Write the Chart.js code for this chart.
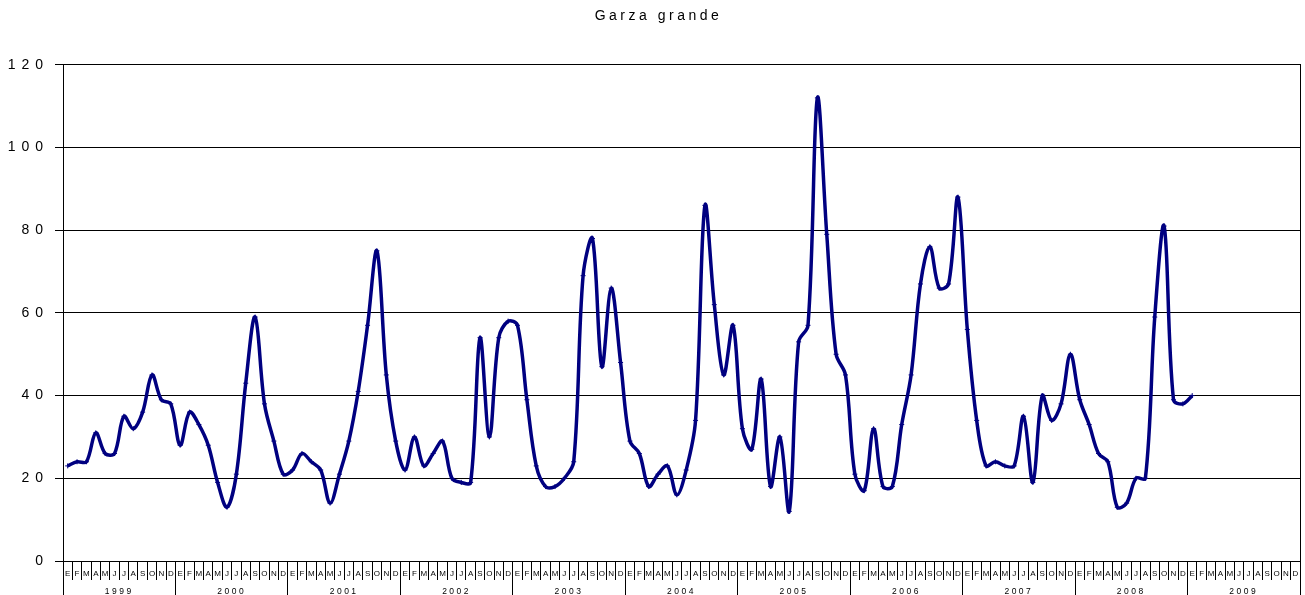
<!DOCTYPE html>
<html><head><meta charset="utf-8">
<script src="https://cdn.jsdelivr.net/npm/chart.js@4"></script>
<style>html,body{margin:0;padding:0;background:#fff;} canvas{display:block;}</style>
</head><body>
<canvas id="c" width="1305" height="595"></canvas>
<script>
const chartTitle = 'Garza grande';
const years = ['1999','2000','2001','2002','2003','2004','2005','2006','2007','2008','2009'];
const monthLetters = ['E','F','M','A','M','J','J','A','S','O','N','D'];
const yTicks = [0, 20, 40, 60, 80, 100, 120];

const v1999 = [23, 24, 24, 31, 26, 26, 35, 32, 36, 45, 39, 38];
const v2000 = [28, 36, 33, 28, 19, 13, 21, 43, 59, 38, 29, 21];
const v2001 = [22, 26, 24, 22, 14, 21, 29, 41, 57, 75, 45, 29];
const v2002 = [22, 30, 23, 26, 29, 20, 19, 19, 54, 30, 54, 58];
const v2003 = [57, 39, 23, 18, 18, 20, 24, 69, 78, 47, 66, 48];
const v2004 = [29, 26, 18, 21, 23, 16, 22, 34, 86, 62, 45, 57];
const v2005 = [32, 27, 44, 18, 30, 12, 53, 57, 112, 79, 50, 45];
const v2006 = [21, 17, 32, 18, 18, 33, 45, 67, 76, 66, 67, 88];
const v2007 = [56, 34, 23, 24, 23, 23, 35, 19, 40, 34, 38, 50];
const v2008 = [39, 33, 26, 24, 13, 14, 20, 20, 59, 81, 39, 38];
const v2009 = [40];

const series = [].concat(v1999, v2000, v2001, v2002, v2003, v2004, v2005, v2006, v2007, v2008, v2009);
const monthLabels = [];
years.forEach(() => monthLetters.forEach(m => monthLabels.push(m)));
while (series.length < monthLabels.length) series.push(null);

const FONT = "'Liberation Sans', Arial, sans-serif";

const spacingPlugin = {
  id: 'spacing',
  beforeDraw(chart) {
    const ctx = chart.ctx;
    const wrap = (obj, method, sp) => {
      if (!obj || obj['__w_' + method]) return;
      const orig = obj[method];
      obj[method] = function (...args) {
        const prev = ctx.letterSpacing;
        ctx.letterSpacing = sp;
        try { return orig.apply(this, args); } finally { ctx.letterSpacing = prev; }
      };
      obj['__w_' + method] = true;
    };
    if (chart.scales.y) chart.scales.y._computeLabelArea = () => undefined;
    wrap(chart.scales.y, 'drawLabels', '6px');
    wrap(chart.scales.x2, 'drawLabels', '2.5px');
    wrap(chart.titleBlock, 'draw', '3.5px');
  }
};

new Chart(document.getElementById('c'), {
  type: 'line',
  data: {
    labels: monthLabels,
    datasets: [{
      data: series,
      borderColor: '#000080',
      borderWidth: 3.5,
      tension: 0.35,
      pointStyle: 'cross',
      pointRadius: 2.5,
      pointBorderWidth: 1,
      pointBorderColor: '#000080',
      pointBackgroundColor: '#000080',
      fill: false,
      xAxisID: 'x',
      yAxisID: 'y'
    }]
  },
  options: {
    responsive: false,
    animation: false,
    devicePixelRatio: 1,
    layout: { padding: { left: 13, right: 1, top: 0, bottom: 0 } },
    plugins: {
      legend: { display: false },
      tooltip: { enabled: false },
      title: {
        display: true,
        text: chartTitle,
        color: '#000',
        font: { family: FONT, size: 14, weight: 'normal' },
        padding: { top: 8, bottom: 40 }
      }
    },
    scales: {
      x: {
        type: 'category',
        position: 'bottom',
        offset: true,
        afterFit: (s) => { s.height = 19; },
        grid: { offset: true, drawOnChartArea: false, drawTicks: true, tickLength: 19, color: '#000', lineWidth: 1 },
        border: { display: true, color: '#000', width: 1 },
        ticks: { autoSkip: false, maxRotation: 0, minRotation: 0, color: '#000', padding: -10.8,
                 font: { family: FONT, size: 8 } }
      },
      x2: {
        type: 'category',
        position: 'bottom',
        labels: years,
        offset: true,
        afterFit: (s) => { s.height = 15; },
        grid: { offset: true, drawOnChartArea: false, drawTicks: true, tickLength: 15, color: '#000', lineWidth: 1 },
        border: { display: false },
        ticks: { autoSkip: false, maxRotation: 0, minRotation: 0, color: '#000', padding: -8.8,
                 font: { family: FONT, size: 8.5 } }
      },
      y: {
        type: 'linear',
        position: 'left',
        min: 0,
        max: 120,
        afterFit: (s) => { s.width = 50; },
        afterBuildTicks: (s) => { s.ticks = yTicks.map(v => ({ value: v })); },
        grid: { color: '#000', lineWidth: 1, drawTicks: true, tickLength: 8 },
        border: { display: true, color: '#000', width: 1 },
        ticks: { color: '#000', padding: 6, font: { family: FONT, size: 14 } }
      },
      yR: {
        type: 'linear',
        position: 'right',
        display: true,
        afterFit: (s) => { s.width = 0; },
        grid: { display: false, drawTicks: false },
        border: { display: true, color: '#000', width: 1 },
        ticks: { display: false }
      }
    }
  },
  plugins: [spacingPlugin]
});
</script>
</body></html>
